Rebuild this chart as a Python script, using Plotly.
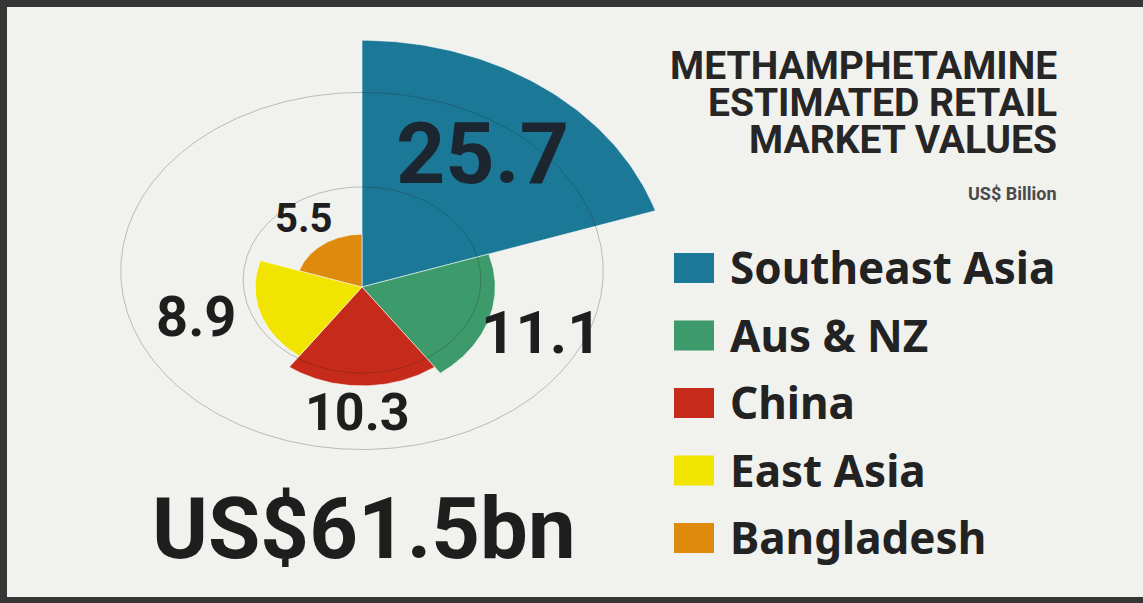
import numpy as np
import plotly.graph_objects as go

# Estimated retail market values of methamphetamine, US$ billion
regions = ["Southeast Asia", "Aus & NZ", "China", "East Asia", "Bangladesh"]
values = [25.7, 11.1, 10.3, 8.9, 5.5]
colors = ["#1b7896", "#3d9a6b", "#c62a1a", "#f0e400", "#dd8a0d"]
label_text = ["25.7", "11.1", "10.3", "8.9", "5.5"]

title_lines = ["METHAMPHETAMINE", "ESTIMATED RETAIL", "MARKET VALUES"]
unit_text = "US$ Billion"

W, H = 1143, 603
# pixel scale of one value unit along each axis (the rose is drawn as an ellipse)
SX, SY = 12.0, 9.6
CX, CY = 362, 287  # centre of the rose in pixels
FRAME = "#363636"


def px(x):
    return x / W


def py(y):
    return 1 - y / H


fig = go.Figure()

# rose sectors: equal angular width, radius proportional to value
n = len(values)
step = 360 / n
for i, (name, v, c) in enumerate(zip(regions, values, colors)):
    th = np.radians(np.linspace(i * step, (i + 1) * step, 80))
    xs = np.concatenate([[0], v * np.sin(th), [0]])
    ys = np.concatenate([[0], v * np.cos(th), [0]])
    fig.add_trace(go.Scatter(
        x=xs, y=ys, mode="lines", fill="toself", fillcolor=c,
        line=dict(color="rgba(255,255,255,0.55)", width=1),
        name=name, showlegend=False, hoverinfo="name",
    ))

# faint elliptical guide rings drawn over the sectors
rings = [(20.1, 18.6, 1.67), (9.9, 9.7, 0.73)]
t = np.linspace(0, 2 * np.pi, 400)
for rx, ry, cy in rings:
    fig.add_trace(go.Scatter(
        x=rx * np.sin(t), y=cy + ry * np.cos(t), mode="lines",
        line=dict(color="rgba(40,40,40,0.28)", width=1),
        showlegend=False, hoverinfo="skip",
    ))

annotations = []
shapes = []

# dark frame strips along the top, left and bottom edges
for x0, x1, y0, y1 in [(0, W, 0, 7), (0, 7, 0, H), (0, W, 597, H)]:
    shapes.append(dict(type="rect", xref="paper", yref="paper", layer="below",
                       x0=px(x0), x1=px(x1), y0=py(y1), y1=py(y0),
                       fillcolor=FRAME, line=dict(width=0)))

# value labels
label_pos = [(482, 153, 86), (541, 332, 60), (357, 412, 52), (196, 317, 56), (304, 218, 40)]
label_col = ["#1b2631", "#1e1e1e", "#1e1e1e", "#1e1e1e", "#1e1e1e"]
for txt, (x, y, s), col in zip(label_text, label_pos, label_col):
    annotations.append(dict(
        text=txt, x=px(x), y=py(y), xref="paper", yref="paper",
        xanchor="center", yanchor="middle", showarrow=False,
        font=dict(family="Roboto", size=s, color=col, weight=700),
    ))

# title block, right aligned
for k, line in enumerate(title_lines):
    annotations.append(dict(
        text=line, x=px(1059), y=py(66 + 37 * k), xref="paper", yref="paper",
        xanchor="right", yanchor="middle", showarrow=False,
        font=dict(family="Roboto", size=39, color="#262626", weight=700),
    ))
annotations.append(dict(
    text=unit_text, x=px(1059), y=py(193), xref="paper", yref="paper",
    xanchor="right", yanchor="middle", showarrow=False,
    font=dict(family="Roboto", size=18, color="#4a4a4a", weight=700),
))

# legend: colour squares with region names
for i, (name, c) in enumerate(zip(regions, colors)):
    top = 253 + 67.5 * i
    shapes.append(dict(type="rect", xref="paper", yref="paper",
                       x0=px(674), x1=px(714), y0=py(top + 30), y1=py(top),
                       fillcolor=c, line=dict(width=0)))
    annotations.append(dict(
        text=name, x=px(728), y=py(top + 14), xref="paper", yref="paper",
        xanchor="left", yanchor="middle", showarrow=False,
        font=dict(family="Noto Sans", size=44, color="#222222", weight=700),
    ))

# total market value
total = sum(values)
annotations.append(dict(
    text=f"US${total:.1f}bn", x=px(150), y=py(529), xref="paper", yref="paper",
    xanchor="left", yanchor="middle", showarrow=False,
    font=dict(family="Roboto", size=85, color="#1e1e1e", weight=700),
))

fig.update_layout(
    width=W, height=H,
    margin=dict(l=0, r=0, t=0, b=0),
    paper_bgcolor="#f1f1ee",
    plot_bgcolor="rgba(0,0,0,0)",
    xaxis=dict(range=[-CX / SX, (W - CX) / SX], visible=False, fixedrange=True),
    yaxis=dict(range=[-(H - CY) / SY, CY / SY], visible=False, fixedrange=True),
    shapes=shapes,
    annotations=annotations,
    showlegend=False,
)

fig.write_html("out.html")
